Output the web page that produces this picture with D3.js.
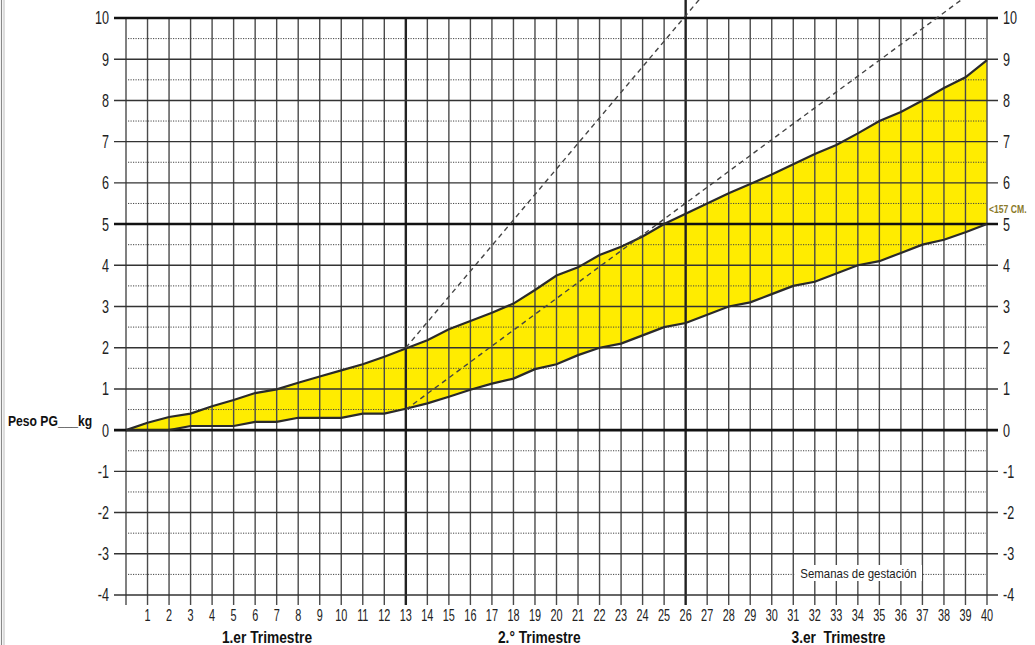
<!DOCTYPE html>
<html><head><meta charset="utf-8">
<script src="https://cdn.jsdelivr.net/npm/d3@7"></script>
<style>
html,body{margin:0;padding:0;background:#fff;}
svg{display:block;}
text{font-family:"Liberation Sans",Arial,sans-serif;}
</style></head>
<body>
<svg id="chart" width="1035" height="645"></svg>
<script>
const weeks = d3.range(0, 41);
const upper = [0,0.18,0.32,0.4,0.58,0.73,0.9,0.99,1.15,1.3,1.45,1.6,1.78,1.98,2.18,2.45,2.65,2.85,3.07,3.4,3.75,3.95,4.25,4.45,4.7,5.0,5.25,5.5,5.75,5.97,6.2,6.45,6.7,6.92,7.2,7.5,7.72,8.0,8.3,8.56,8.98];
const lower = [0,0,0,0.1,0.1,0.1,0.2,0.2,0.3,0.3,0.3,0.4,0.4,0.52,0.65,0.81,0.98,1.13,1.25,1.48,1.6,1.82,2.0,2.1,2.3,2.5,2.6,2.8,3.0,3.1,3.3,3.5,3.6,3.8,4.0,4.1,4.3,4.5,4.62,4.8,5.0];
const dashSteep = [[13,2.0],[27.2,10.8]];
const dashMild = [[13,0.5],[40,10.9]];
const yTicks = d3.range(-4, 11);
const yHalf = [-3.5,-2.5,-1.5,-0.5,0.5,1.5,2.5,3.5,4.5,5.5,6.5,7.5,8.5,9.5];
const xTickLabels = d3.range(1, 41);
const trimesters = [{label:"1.er Trimestre", at:6.55},{label:"2.° Trimestre", at:19.2},{label:"3.er  Trimestre", at:33.1}];
const heavyWeeks = [13, 26];
const heavyValues = [0, 5, 10];

const svg = d3.select("#chart");
const x = d3.scaleLinear().domain([0,40]).range([126,987]);
const y = d3.scaleLinear().domain([-4,10]).range([595,18]);

function addText(parent, tx, ty, str, o) {
  const g = parent.append("g").attr("transform", `translate(${tx},${ty}) scale(${o.sx||1},1)`);
  const t = g.append("text").attr("x",0).attr("y",0)
    .attr("font-size", o.size).attr("fill", o.fill||"#222")
    .attr("text-anchor", o.anchor||"start")
    .attr("font-weight", o.weight||"normal")
    .attr("dy", o.dy||null)
    .style("white-space","pre")
    .text(str);
  return t;
}

// left border double line
svg.append("line").attr("x1",1.5).attr("x2",1.5).attr("y1",0).attr("y2",645).attr("stroke","#888").attr("stroke-width",1.2);
svg.append("line").attr("x1",4).attr("x2",4).attr("y1",0).attr("y2",645).attr("stroke","#aaa").attr("stroke-width",0.8);

// yellow band
const band = weeks.map((w,i)=>({w, u:upper[i], l:lower[i]}));
svg.append("path").datum(band)
  .attr("fill","#ffec00")
  .attr("d", d3.area().x(d=>x(d.w)).y0(d=>y(d.l)).y1(d=>y(d.u)));

// dotted half lines
svg.append("g").selectAll("line").data(yHalf).join("line")
  .attr("x1", x(0)+2).attr("x2", x(40)-1)
  .attr("y1", d=>y(d)).attr("y2", d=>y(d))
  .attr("stroke","#444").attr("stroke-width",1).attr("stroke-dasharray","1.2,1.3");

// vertical grid
svg.append("g").selectAll("line").data(weeks).join("line")
  .attr("x1", d=>x(d)).attr("x2", d=>x(d))
  .attr("y1", d=> d===26 ? 0 : y(10)).attr("y2", y(-4)+10)
  .attr("stroke", d=> heavyWeeks.includes(d) ? "#222" : "#4a4a4a")
  .attr("stroke-width", d=> heavyWeeks.includes(d) ? 2.4 : 1.4);

// horizontal solid grid
svg.append("g").selectAll("line").data(yTicks).join("line")
  .attr("x1", x(0)-12).attr("x2", x(40)+11)
  .attr("y1", d=>y(d)).attr("y2", d=>y(d))
  .attr("stroke", d=> heavyValues.includes(d) ? "#111" : "#333")
  .attr("stroke-width", d=> heavyValues.includes(d) ? 2.6 : 1.4);

// boundary lines
const line = d3.line().x(d=>x(d[0])).y(d=>y(d[1]));
svg.append("path").datum(weeks.map((w,i)=>[w,upper[i]]))
  .attr("fill","none").attr("stroke","#2a2a2a").attr("stroke-width",2.2).attr("d",line);
svg.append("path").datum(weeks.map((w,i)=>[w,lower[i]]))
  .attr("fill","none").attr("stroke","#2a2a2a").attr("stroke-width",2.2).attr("d",line);

// dashed reference lines
[dashSteep, dashMild].forEach(pts=>{
  svg.append("path").datum(pts)
    .attr("fill","none").attr("stroke","#444").attr("stroke-width",1.4)
    .attr("stroke-dasharray","5,4").attr("d",line);
});

// y labels left & right
const gl = svg.append("g");
yTicks.forEach(d=>{
  addText(gl, x(0)-17, y(d), String(d), {size:18, sx:0.7, anchor:"end", dy:"0.36em"});
  addText(gl, x(40)+16, y(d), String(d), {size:18, sx:0.7, anchor:"start", dy:"0.36em"});
});

// x labels
const gx = svg.append("g");
xTickLabels.forEach(d=>{
  addText(gx, x(d), 621, String(d), {size:16, sx:0.68, anchor:"middle"});
});

// trimester labels
const gt = svg.append("g");
trimesters.forEach(d=>{
  addText(gt, x(d.at), 643, d.label, {size:16, sx:0.86, anchor:"middle", weight:"bold", fill:"#111"});
});

// Semanas de gestacion label with white background
svg.append("rect").attr("x",795).attr("y",565).attr("width",127).attr("height",16).attr("fill","#fff");
addText(svg, 858.5, 578, "Semanas de gestación", {size:13, sx:0.88, anchor:"middle"});

// Peso label
addText(svg, 8, 426, "Peso PG___kg", {size:15, sx:0.81, weight:"bold", fill:"#111"});

// <157 CM.
addText(svg, 989, 213, "<157 CM.", {size:10.5, sx:0.82, weight:"bold", fill:"#8a7a2a"});
</script>
</body></html>
